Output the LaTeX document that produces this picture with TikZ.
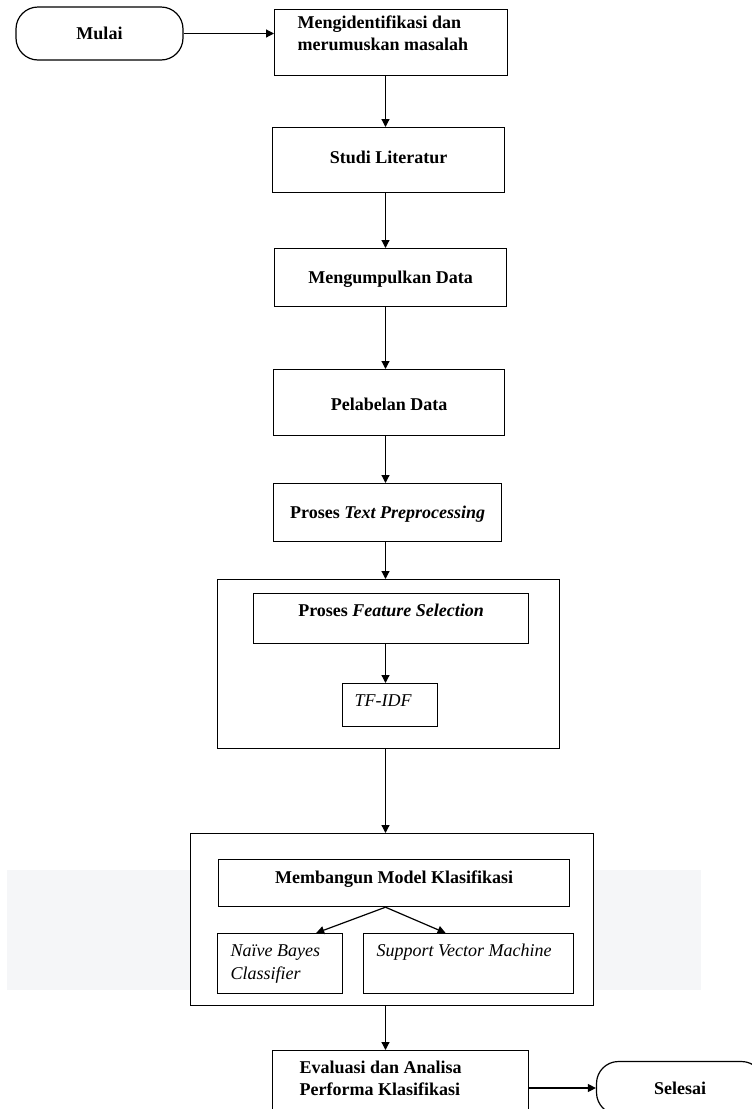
\documentclass[tikz,border=0pt]{standalone}
\usepackage{fontspec}
\setmainfont{Liberation Serif}
\usepackage{xcolor}
\usepackage{tikz}
\usetikzlibrary{arrows.meta, positioning}
\definecolor{bandgray}{RGB}{245,246,248}

\begin{document}
\begin{tikzpicture}[
  x=1pt, y=-1pt,
  box/.style={rectangle, draw, fill=white, line width=1.2pt, inner sep=0pt,
              anchor=north west, font=\fontsize{18}{22}\selectfont\bfseries, align=center,
              execute at begin node={\spaceskip=0pt\xspaceskip=0pt\relax}},
  frame/.style={rectangle, draw, fill=white, line width=1.2pt, inner sep=0pt, anchor=north west},
  terminal/.style={rectangle, draw, fill=white, line width=1.2pt, rounded corners=22pt,
                   minimum width=167pt, minimum height=53pt,
                   font=\fontsize{18}{22}\selectfont\bfseries},
  arrow/.style={-{Triangle[length=8pt,width=8pt]}, line width=1.2pt}
]
\useasboundingbox (0,0) rectangle (752,1109);
\clip (0,0) rectangle (752,1109);
\fill[bandgray] (7,870) rectangle (701,990);
\coordinate (spine) at (385.5,0);

\node[terminal] (mulai) at (99.5,33.5) {Mulai};
\node[box, text width=187pt, inner xsep=23pt, align=left, text height=19pt, text depth=47pt]
  (identifikasi) at (274,9) {Mengidentifikasi dan\\merumuskan masalah};
\node[box, minimum width=232pt, text height=36pt, text depth=29pt] (studi) at (272,127) {Studi Literatur};
\node[box, minimum width=232pt, text height=35pt, text depth=23pt] (kumpul) at (274,248) {Mengumpulkan Data};
\node[box, minimum width=231pt, text height=41pt, text depth=25pt] (label) at (273,369) {Pelabelan Data};
\node[box, minimum width=228pt, text height=35pt, text depth=23pt] (prepro) at (273,483)
  {Proses \textit{Text Preprocessing}};

% seleksi fitur
\node[frame, minimum width=342pt, minimum height=169pt] (fiturframe) at (217,579) {};
\node[box, minimum width=275pt, text height=23pt, text depth=27pt] (fitur) at (253,593)
  {Proses \textit{Feature Selection}};
\node[box, font=\fontsize{18}{22}\selectfont\itshape, text width=71pt, inner xsep=12pt, align=left,
      text height=23pt, text depth=20pt] (tfidf) at (342,683) {TF-IDF};

% model klasifikasi
\node[frame, minimum width=403pt, minimum height=172pt] (modelframe) at (190,833) {};
\node[box, minimum width=351pt, text height=24pt, text depth=23pt] (model) at (218,859)
  {Membangun Model Klasifikasi};
\node[box, font=\fontsize{18}{22.5}\selectfont\itshape, text width=99pt, inner xsep=13pt, align=left,
      text height=23pt, text depth=37pt] (nb) at (217,933) {Na\"ive Bayes\\Classifier};
\node[box, font=\fontsize{18}{22}\selectfont\itshape, text width=184pt, inner xsep=13pt, align=left,
      text height=23pt, text depth=37pt] (svm) at (363,933) {Support Vector Machine};

\node[box, text width=202pt, inner xsep=27pt, align=left, text height=23pt, text depth=47pt]
  (evaluasi) at (272,1050) {Evaluasi dan Analisa\\Performa Klasifikasi};
\node[terminal] (selesai) at (680,1088) {Selesai};

\draw[arrow] (mulai.east) -- (mulai.east -| identifikasi.west);
\draw[arrow] (identifikasi.south -| spine) -- (studi.north -| spine);
\draw[arrow] (studi.south -| spine) -- (kumpul.north -| spine);
\draw[arrow] (kumpul.south -| spine) -- (label.north -| spine);
\draw[arrow] (label.south -| spine) -- (prepro.north -| spine);
\draw[arrow] (prepro.south -| spine) -- (fiturframe.north -| spine);
\draw[arrow] (fitur.south -| spine) -- (tfidf.north -| spine);
\draw[arrow] (fiturframe.south -| spine) -- (modelframe.north -| spine);
\draw[arrow] (model.south -| spine) -- ([xshift=-27pt]nb.north east);
\draw[arrow] (model.south -| spine) -- ([xshift=-23pt]svm.north);
\draw[arrow] (modelframe.south -| spine) -- (evaluasi.north -| spine);
\draw[arrow] (evaluasi.east |- selesai.west) -- (selesai.west);
\end{tikzpicture}
\end{document}
